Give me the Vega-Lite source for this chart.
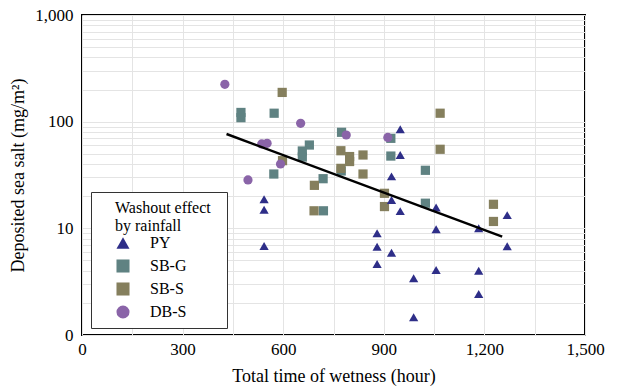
{
  "$schema": "https://vega.github.io/schema/vega-lite/v6.json",
  "width": 503,
  "height": 320,
  "autosize": {"type": "none"},
  "padding": {"left": 82, "top": 15, "right": 33, "bottom": 54},
  "background": "white",
  "config": {
    "view": {"stroke": "black", "strokeWidth": 2},
    "font": "Liberation Serif",
    "axis": {
      "labelFont": "Liberation Serif",
      "titleFont": "Liberation Serif",
      "labelColor": "black",
      "titleColor": "black",
      "titleFontWeight": "normal",
      "gridColor": "#e4e4e4",
      "gridWidth": 1,
      "domain": false,
      "ticks": false
    },
    "legend": {
      "labelFont": "Liberation Serif",
      "titleFont": "Liberation Serif"
    }
  },
  "datasets": {
    "pts": [
      {"h": 474, "salt": 122, "type": "SB-G"},
      {"h": 474, "salt": 109, "type": "SB-G"},
      {"h": 573, "salt": 120, "type": "SB-G"},
      {"h": 774, "salt": 79.5, "type": "SB-G"},
      {"h": 678, "salt": 60.4, "type": "SB-G"},
      {"h": 657, "salt": 53.1, "type": "SB-G"},
      {"h": 657, "salt": 46.6, "type": "SB-G"},
      {"h": 572, "salt": 32.3, "type": "SB-G"},
      {"h": 719, "salt": 29.2, "type": "SB-G"},
      {"h": 921, "salt": 69.8, "type": "SB-G"},
      {"h": 921, "salt": 47.6, "type": "SB-G"},
      {"h": 1024, "salt": 35, "type": "SB-G"},
      {"h": 1024, "salt": 17.2, "type": "SB-G"},
      {"h": 720, "salt": 14.6, "type": "SB-G"},
      {"h": 773, "salt": 34.5, "type": "SB-G"},
      {"h": 597, "salt": 188, "type": "SB-S"},
      {"h": 598, "salt": 43.1, "type": "SB-S"},
      {"h": 772, "salt": 53.4, "type": "SB-S"},
      {"h": 798, "salt": 47.1, "type": "SB-S"},
      {"h": 798, "salt": 42.3, "type": "SB-S"},
      {"h": 838, "salt": 48.7, "type": "SB-S"},
      {"h": 772, "salt": 36.5, "type": "SB-S"},
      {"h": 838, "salt": 32.3, "type": "SB-S"},
      {"h": 693, "salt": 25.3, "type": "SB-S"},
      {"h": 692, "salt": 14.6, "type": "SB-S"},
      {"h": 1068, "salt": 120, "type": "SB-S"},
      {"h": 1068, "salt": 55.1, "type": "SB-S"},
      {"h": 902, "salt": 21.3, "type": "SB-S"},
      {"h": 902, "salt": 16, "type": "SB-S"},
      {"h": 1227, "salt": 16.8, "type": "SB-S"},
      {"h": 1227, "salt": 11.6, "type": "SB-S"},
      {"h": 949, "salt": 84.8, "type": "PY"},
      {"h": 949, "salt": 48.7, "type": "PY"},
      {"h": 923, "salt": 30.7, "type": "PY"},
      {"h": 923, "salt": 18.4, "type": "PY"},
      {"h": 949, "salt": 14.5, "type": "PY"},
      {"h": 1056, "salt": 15.7, "type": "PY"},
      {"h": 1268, "salt": 13.3, "type": "PY"},
      {"h": 1183, "salt": 10, "type": "PY"},
      {"h": 1056, "salt": 9.8, "type": "PY"},
      {"h": 880, "salt": 9.0, "type": "PY"},
      {"h": 880, "salt": 6.73, "type": "PY"},
      {"h": 923, "salt": 5.91, "type": "PY"},
      {"h": 1268, "salt": 6.79, "type": "PY"},
      {"h": 880, "salt": 4.63, "type": "PY"},
      {"h": 1056, "salt": 4.07, "type": "PY"},
      {"h": 1183, "salt": 4.01, "type": "PY"},
      {"h": 989, "salt": 3.4, "type": "PY"},
      {"h": 1183, "salt": 2.42, "type": "PY"},
      {"h": 989, "salt": 1.47, "type": "PY"},
      {"h": 543, "salt": 18.7, "type": "PY"},
      {"h": 543, "salt": 14.9, "type": "PY"},
      {"h": 543, "salt": 6.83, "type": "PY"},
      {"h": 426, "salt": 224, "type": "DB-S"},
      {"h": 536, "salt": 61.8, "type": "DB-S"},
      {"h": 552, "salt": 62.7, "type": "DB-S"},
      {"h": 652, "salt": 96.5, "type": "DB-S"},
      {"h": 495, "salt": 28.4, "type": "DB-S"},
      {"h": 592, "salt": 40.1, "type": "DB-S"},
      {"h": 788, "salt": 75, "type": "DB-S"},
      {"h": 912, "salt": 71.1, "type": "DB-S"}
    ],
    "fit": [
      {"h": 431, "salt": 76.6},
      {"h": 1253, "salt": 8.35}
    ]
  },
  "layer": [
    {
      "data": {"name": "pts"},
      "mark": {"type": "point", "filled": true, "opacity": 1, "strokeWidth": 0, "size": 85},
      "encoding": {
        "x": {
          "field": "h", "type": "quantitative",
          "scale": {"domain": [0, 1500], "nice": false, "zero": false},
          "axis": {
            "values": [0, 150, 300, 450, 600, 750, 900, 1050, 1200, 1350, 1500],
            "labelExpr": "datum.value % 300 == 0 ? format(datum.value, ',') : ''",
            "labelFontSize": 17,
            "labelPadding": 6,
            "labelFlush": false,
            "labelOverlap": false,
            "title": "Total time of wetness (hour)",
            "titleFontSize": 18,
            "titlePadding": 10
          }
        },
        "y": {
          "field": "salt", "type": "quantitative",
          "scale": {"type": "log", "domain": [1, 1000], "nice": false},
          "axis": {
            "values": [1, 2, 3, 4, 5, 6, 7, 8, 9, 10, 20, 30, 40, 50, 60, 70, 80, 90, 100, 200, 300, 400, 500, 600, 700, 800, 900, 1000],
            "labelExpr": "datum.value == 1 ? '0' : (datum.value == 10 || datum.value == 100 || datum.value == 1000 ? format(datum.value, ',') : '')",
            "labelFontSize": 17,
            "labelPadding": 9,
            "labelFlush": false,
            "labelOverlap": false,
            "title": "Deposited sea salt (mg/m²)",
            "titleFontSize": 18,
            "titlePadding": 7
          }
        },
        "shape": {
          "field": "type", "type": "nominal",
          "scale": {"domain": ["PY", "SB-G", "SB-S", "DB-S"], "range": ["triangle-up", "square", "square", "circle"]},
          "legend": {
            "title": ["\u200b\u00a0\u00a0\u00a0\u00a0Washout effect\u00a0\u00a0\u200b", "\u200b\u00a0\u00a0\u00a0\u00a0by rainfall"],
            "orient": "none",
            "legendX": 9,
            "legendY": 177,
            "fillColor": "white",
            "strokeColor": "#333333",
            "padding": 8,
            "titleFontSize": 16,
            "titleFontWeight": "normal",
            "titleColor": "black",
            "titleLineHeight": 18,
            "titlePadding": 1,
            "labelFontSize": 16,
            "labelColor": "black",
            "labelOffset": 19,
            "symbolOffset": 16,
            "symbolSize": 170,
            "symbolOpacity": 1,
            "symbolStrokeWidth": 0,
            "rowPadding": 7
          }
        },
        "color": {
          "field": "type", "type": "nominal",
          "scale": {"domain": ["PY", "SB-G", "SB-S", "DB-S"], "range": ["#2e2e88", "#5f8282", "#857f5d", "#8a64a8"]}
        }
      }
    },
    {
      "data": {"name": "fit"},
      "mark": {"type": "line", "color": "black", "strokeWidth": 2.5},
      "encoding": {
        "x": {"field": "h", "type": "quantitative"},
        "y": {"field": "salt", "type": "quantitative"}
      }
    }
  ]
}
